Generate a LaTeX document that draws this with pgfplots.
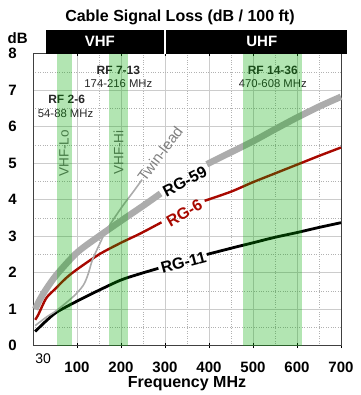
\documentclass[border=0pt]{standalone}
\usepackage{pgfplots}
\pgfplotsset{compat=1.18}
\usepackage{fontspec}
\setmainfont{Liberation Sans}
\definecolor{band}{RGB}{0,170,0}
\definecolor{rgsix}{RGB}{168,8,0}
\definecolor{lgray}{RGB}{172,172,172}
\newcommand{\fs}[1]{\fontsize{#1}{#1}\selectfont}

\begin{document}
\begin{tikzpicture}
\begin{axis}[
 at={(0,0)}, anchor=south west,
 scale only axis, width=308pt, height=292pt,
 xmin=0, xmax=700, ymin=0, ymax=8,
 xtick={100,200,...,700}, ytick={0,1,...,8},
 minor x tick num=1, minor y tick num=1,
 grid=both,
 major grid style={draw=black!20, line width=0.8pt},
 minor grid style={draw=black!30, dotted, line width=0.7pt},
 axis line style={draw=black!75, line width=0.8pt},
 tick align=center, major tick length=5pt, minor tick length=0pt,
 ytick style={draw=none},
 xtick style={draw=black, line width=0.8pt},
 tick label style={font=\bfseries\fs{15}},
 /pgf/number format/assume math mode=true,
 xticklabel style={anchor=center, yshift=-19pt},
 yticklabel style={anchor=center, xshift=-18pt},
 clip=false,
]
% RG-59
\addplot[lgray, line width=6.5pt, smooth] coordinates {(5,1.0) (15,1.25) (30,1.55) (54,1.95) (100,2.55) (150,3.0) (200,3.42) (250,3.83) (290,4.17)};
\addplot[lgray, line width=6.5pt, smooth] coordinates {(395,4.97) (450,5.3) (500,5.6) (550,5.93) (600,6.25) (650,6.55) (700,6.82)};
% RG-6
\addplot[rgsix, line width=2.4pt, smooth] coordinates {(5,0.71) (12,0.85) (30,1.3) (50,1.55) (75,1.85) (100,2.09) (150,2.5) (200,2.82) (245,3.08) (292,3.38)};
\addplot[rgsix, line width=2.4pt, smooth] coordinates {(390,3.97) (450,4.22) (500,4.48) (550,4.72) (600,4.96) (650,5.2) (700,5.43)};
% RG-11
\addplot[black, line width=2.8pt, smooth] coordinates {(5,0.39) (30,0.68) (54,0.92) (100,1.22) (150,1.52) (200,1.8) (243,1.97) (285,2.12)};
\addplot[black, line width=2.8pt, smooth] coordinates {(395,2.5) (450,2.67) (500,2.82) (550,2.97) (600,3.1) (650,3.24) (700,3.37)};
% Twin-lead
\addplot[lgray, line width=1.6pt, smooth] coordinates {(5,0.55) (30,0.78) (54,0.97) (92,1.35) (114,1.65) (125,1.95) (135,2.35) (150,2.75) (165,3.12) (185,3.5) (205,3.85) (225,4.17) (248,4.55)};

\node[rotate=27, font=\bfseries\fs{16}] at (axis cs:345,4.5) {RG-59};
\node[rotate=29.5, text=rgsix, font=\bfseries\fs{16}] at (axis cs:344,3.63) {RG-6};
\node[rotate=15, font=\bfseries\fs{16}] at (axis cs:342,2.28) {RG-11};
\node[rotate=53, text=black!50, font=\fs{15}] at (axis cs:289,5.25) {Twin-lead};

\node[rotate=90, text=black!60, font=\fs{13.5}] at (axis cs:70.5,5.27) {VHF-Lo};
\node[rotate=90, text=black!60, font=\fs{13.5}] at (axis cs:194,5.29) {VHF-Hi};

\node[text=black!85, font=\bfseries\fs{12}] at (axis cs:76.5,6.75) {RF 2-6};
\node[text=black!85, font=\fs{11.3}] at (axis cs:74,6.37) {54-88 MHz};
\node[text=black!85, font=\bfseries\fs{12}] at (axis cs:194,7.55) {RF 7-13};
\node[text=black!85, font=\fs{11.3}] at (axis cs:194,7.17) {174-216 MHz};
\node[text=black!85, font=\bfseries\fs{12}] at (axis cs:545,7.53) {RF 14-36};
\node[text=black!85, font=\fs{11.3}] at (axis cs:545,7.17) {470-608 MHz};

\fill[band, opacity=0.3] (axis cs:54,0) rectangle (axis cs:88,8);
\fill[band, opacity=0.3] (axis cs:172,0) rectangle (axis cs:216,8);
\fill[band, opacity=0.3] (axis cs:478,0) rectangle (axis cs:612,8);

\fill[black] (axis cs:30,8) rectangle (axis cs:713,8.66);
\draw[white, line width=1.5pt] (axis cs:300,8) -- (axis cs:300,8.66);
\node[text=white, font=\bfseries\fs{15}] at (axis cs:152,8.34) {VHF};
\node[text=white, font=\bfseries\fs{15}] at (axis cs:520,8.34) {UHF};

\node[font=\bfseries\fs{16}] at (axis cs:334,9.0) {Cable Signal Loss (dB / 100 ft)};
\node[font=\bfseries\fs{15}] at (axis cs:-35,8.44) {dB};
\node[font=\fs{14}, yshift=-12.6pt] at (axis cs:23,0) {30};
\node[font=\bfseries\fs{16}, yshift=-37.6pt] at (axis cs:350,0) {Frequency MHz};
\end{axis}
\pgfresetboundingbox
\path (-33pt,-49.3pt) rectangle (327pt,345.7pt);
\end{tikzpicture}
\end{document}
